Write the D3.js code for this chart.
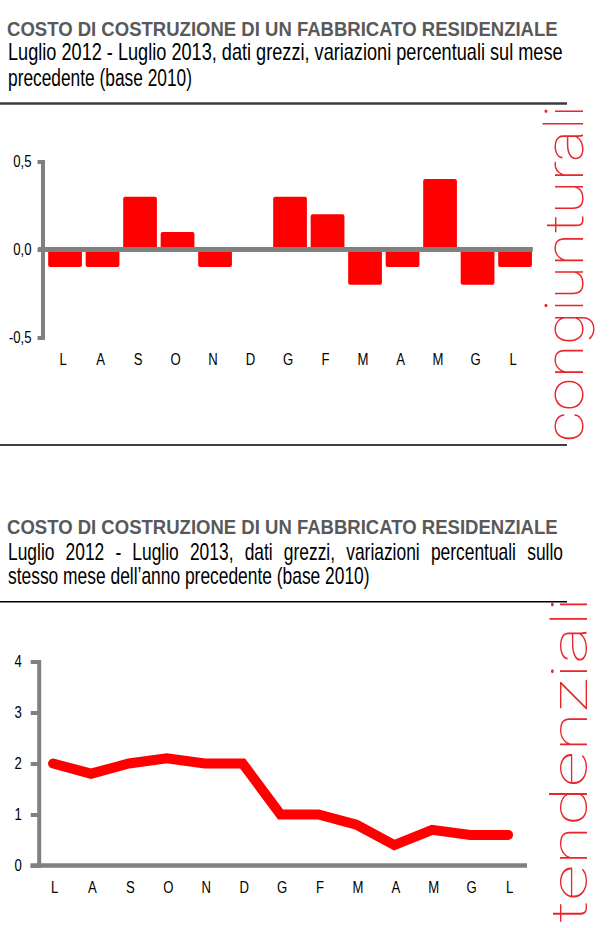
<!DOCTYPE html>
<html>
<head>
<meta charset="utf-8">
<script src="https://cdn.jsdelivr.net/npm/d3@7"></script>
<style>
    body { margin: 0; background: #fff; }
    svg { display: block; }
    .title { font-family: "Liberation Sans Narrow", "Arial Narrow", "Liberation Sans", Arial, sans-serif; font-weight: bold; font-size: 20.5px; fill: #595959; }
    .sub { font-family: "Liberation Sans Narrow", "Arial Narrow", "Liberation Sans", Arial, sans-serif; font-size: 23px; fill: #000; }
    .axis text { font-family: "Liberation Sans Narrow", "Arial Narrow", "Liberation Sans", Arial, sans-serif; font-size: 16px; fill: #000; }
    .side { font-family: Roboto, Inter, Lato, sans-serif; font-weight: 100; fill: #e8262b; }
</style>
</head>
<body>
<svg id="chart" width="610" height="928"></svg>
<script>
// months from July 2012 to July 2013
const months = ["L", "A", "S", "O", "N", "D", "G", "F", "M", "A", "M", "G", "L"];
// change on previous month, %
const congValues = [-0.1, -0.1, 0.3, 0.1, -0.1, 0.0, 0.3, 0.2, -0.2, -0.1, 0.4, -0.2, -0.1];
// change on same month of previous year, %
const tendValues = [2.0, 1.8, 2.0, 2.1, 2.0, 2.0, 1.0, 1.0, 0.8, 0.4, 0.7, 0.6, 0.6];
const congTicks = [-0.5, 0, 0.5];
const tendTicks = [0, 1, 2, 3, 4];
const titleText = "COSTO DI COSTRUZIONE DI UN FABBRICATO RESIDENZIALE";
const congSubtitle = ["Luglio 2012 - Luglio 2013, dati grezzi, variazioni percentuali sul mese", "precedente (base 2010)"];
const tendSubtitle = ["Luglio 2012 - Luglio 2013, dati grezzi, variazioni percentuali sullo", "stesso mese dell\u2019anno precedente (base 2010)"];
const sideLabels = ["congiunturali", "tendenziali"];

const svg = d3.select("#chart");
const grey = "#808080";
const red = "#ff0000";
// the original labels use a narrow face, we squeeze a normal one
const narrow = 0.82;

/**
 * Adds a text squeezed horizontally to a given width
 * @param cls css class of the text
 * @param str the text
 * @param pos transform before the squeeze (translate / rotate)
 * @param width the width to fit
 * @returns the squeeze factor used
 */
function squeezed(cls, str, pos, width, size) {
    let t = svg.append("text").attr("class", cls).text(str);
    if (size) t.attr("font-size", size);
    let k = width / t.node().getComputedTextLength();
    t.attr("transform", pos + " scale(" + k + ",1)");
    return k;
}

/**
 * Places the words of a line so that it fills x0..x1
 * @param str the line
 * @param k glyph squeeze factor
 */
function justifyLine(str, x0, x1, y, k) {
    let words = str.split(" ");
    let nodes = words.map(w => svg.append("text").attr("class", "sub").text(w));
    let widths = nodes.map(n => n.node().getComputedTextLength() * k);
    let gap = (x1 - x0 - d3.sum(widths)) / (words.length - 1);
    let x = x0;
    nodes.forEach((n, i) => {
        n.attr("transform", "translate(" + x + "," + y + ") scale(" + k + ",1)");
        x += widths[i] + gap;
    });
}

// ---------- headers ----------
squeezed("title", titleText, "translate(7,36)", 551);
squeezed("sub", congSubtitle[0], "translate(8,60)", 555);
squeezed("sub", congSubtitle[1], "translate(8,86)", 184);
svg.append("line").attr("x1", 0).attr("x2", 567).attr("y1", 103.5).attr("y2", 103.5)
    .attr("stroke", "#3c3c3c").attr("stroke-width", 2.5);

squeezed("title", titleText, "translate(7,533.5)", 551);
let k = squeezed("sub", tendSubtitle[1], "translate(8,583.5)", 362);
justifyLine(tendSubtitle[0], 8, 563, 560, k);
svg.append("line").attr("x1", 0).attr("x2", 567).attr("y1", 601.7).attr("y2", 601.7)
    .attr("stroke", "#000").attr("stroke-width", 1.5);

svg.append("line").attr("x1", 0).attr("x2", 567).attr("y1", 445).attr("y2", 445)
    .attr("stroke", "#000").attr("stroke-width", 1.5);

// ---------- side labels ----------
squeezed("side", sideLabels[0], "translate(583,442) rotate(-90)", 337, 54);
squeezed("side", sideLabels[1], "translate(587,923) rotate(-90)", 326, 50);

/**
 * Styles a left value axis like the original (thick grey line and stubs)
 */
function styleAxis(g) {
    g.select(".domain").attr("stroke", grey).attr("stroke-width", 4).attr("stroke-linecap", "square");
    g.selectAll(".tick line").attr("stroke", grey).attr("stroke-width", 4);
    g.selectAll(".tick text").each(function () {
        let t = d3.select(this);
        t.attr("x", +t.attr("x") / narrow).attr("transform", "scale(" + narrow + ",1)");
    });
}

/**
 * Month letters under a chart
 */
function monthAxis(scale, shift, y) {
    let g = svg.append("g")
        .attr("class", "axis")
        .attr("transform", "translate(" + shift + ",0)")
        .call(d3.axisBottom(scale).tickSize(0).tickFormat(i => months[i]));
    g.select(".domain").remove();
    g.selectAll("text").attr("y", y).attr("dy", 0).attr("transform", "scale(" + narrow + ",1)")
        .attr("x", 0);
    return g;
}

// ---------- chart 1: bars ----------
let x1 = d3.scaleBand()
    .domain(d3.range(months.length))
    .range([46.3, 533.8])
    .paddingInner(0.1)
    .paddingOuter(0.05);

let y1 = d3.scaleLinear().domain([-0.5, 0.5]).range([337.5, 161.5]);

svg.append("g")
    .selectAll("rect")
    .data(congValues)
    .join("rect")
    .attr("x", (d, i) => x1(i))
    .attr("y", d => y1(Math.max(0, d)))
    .attr("width", x1.bandwidth())
    .attr("height", d => Math.abs(y1(d) - y1(0)))
    .attr("rx", 2)
    .attr("fill", red);

svg.append("g")
    .attr("class", "axis")
    .attr("transform", "translate(42.5,0)")
    .call(d3.axisLeft(y1).tickValues(congTicks).tickSize(5).tickSizeOuter(0).tickPadding(6)
        .tickFormat(d => d3.format(".1f")(d).replace(".", ",").replace("\u2212", "-")))
    .call(styleAxis);

svg.append("line")
    .attr("x1", 38).attr("x2", x1.range()[1] - 1)
    .attr("y1", y1(0)).attr("y2", y1(0))
    .attr("stroke", grey).attr("stroke-width", 5);

monthAxis(x1, -2, 365);

// ---------- chart 2: line ----------
let x2 = d3.scalePoint()
    .domain(d3.range(months.length))
    .range([34.1, 527])
    .padding(0.5);

let y2 = d3.scaleLinear().domain([0, 4]).range([865.5, 661.5]);

svg.append("g")
    .attr("class", "axis")
    .attr("transform", "translate(38.7,0)")
    .call(d3.axisLeft(y2).tickValues(tendTicks).tickSize(8).tickSizeOuter(0).tickPadding(9)
        .tickFormat(d3.format("d")))
    .call(styleAxis);

svg.append("line")
    .attr("x1", 30.5).attr("x2", 527)
    .attr("y1", y2(0)).attr("y2", y2(0))
    .attr("stroke", grey).attr("stroke-width", 4.5);

svg.append("path")
    .datum(tendValues)
    .attr("fill", "none")
    .attr("stroke", red)
    .attr("stroke-width", 10)
    .attr("stroke-linejoin", "miter")
    .attr("stroke-linecap", "round")
    .attr("d", d3.line().x((d, i) => x2(i)).y(d => y2(d)));

monthAxis(x2, 1, 893);
</script>
</body>
</html>
